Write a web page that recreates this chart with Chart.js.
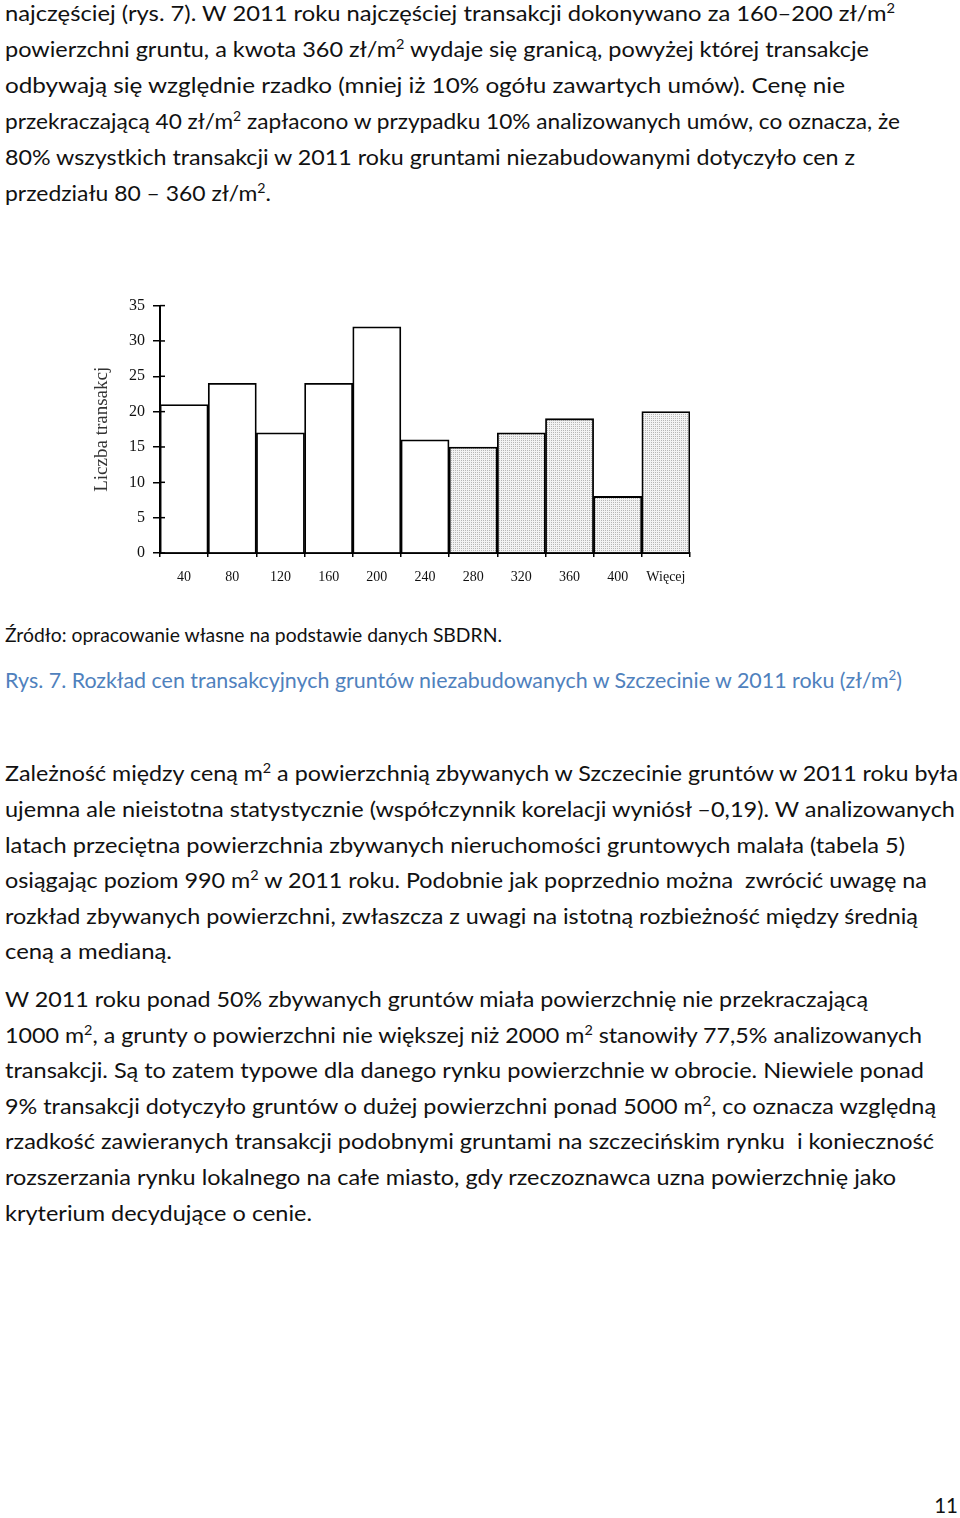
<!DOCTYPE html>
<html lang="pl">
<head>
<meta charset="utf-8">
<script src="https://cdn.jsdelivr.net/npm/chart.js@4.4.1/dist/chart.umd.min.js"></script>
<style>
    html, body { margin: 0; padding: 0; background: #fff; }
    body { width: 960px; height: 1518px; position: relative; overflow: hidden; font-family: Lato, "Open Sans", sans-serif; color: #111; }
    .ln { position: absolute; left: 5px; font-size: 20.5px; line-height: 36px; white-space: pre; transform-origin: 0 0; }
    .ln.maly { font-size: 18.6px; }
    .ln.podpis { color: #4f81bd; }
    .sup { font-size: 0.62em; position: relative; top: -0.6em; }
    #wykres { position: absolute; left: 85px; top: 288px; }
    #strona { position: absolute; right: 2px; top: 1487px; font-size: 20.5px; line-height: 36px; }
</style>
</head>
<body>

<div class="ln" style="top:-5px" data-w="890"><span>najczęściej (rys. 7). W 2011 roku najczęściej transakcji dokonywano za 160–200 zł/m<span class="sup">2</span></span></div>
<div class="ln" style="top:31px" data-w="864"><span>powierzchni gruntu, a kwota 360 zł/m<span class="sup">2</span> wydaje się granicą, powyżej której transakcje</span></div>
<div class="ln" style="top:67px" data-w="840"><span>odbywają się względnie rzadko (mniej iż 10% ogółu zawartych umów). Cenę nie</span></div>
<div class="ln" style="top:103px" data-w="895"><span>przekraczającą 40 zł/m<span class="sup">2</span> zapłacono w przypadku 10% analizowanych umów, co oznacza, że</span></div>
<div class="ln" style="top:139px" data-w="850"><span>80% wszystkich transakcji w 2011 roku gruntami niezabudowanymi dotyczyło cen z</span></div>
<div class="ln" style="top:175px" data-w="266"><span>przedziału 80 – 360 zł/m<span class="sup">2</span>.</span></div>

<canvas id="wykres" width="615" height="304"></canvas>

<div class="ln maly" style="top:617px" data-w="497"><span>Źródło: opracowanie własne na podstawie danych SBDRN.</span></div>
<div class="ln podpis" style="top:662px" data-w="897"><span>Rys. 7. Rozkład cen transakcyjnych gruntów niezabudowanych w Szczecinie w 2011 roku (zł/m<span class="sup">2</span>)</span></div>

<div class="ln" style="top:755px" data-w="953"><span>Zależność między ceną m<span class="sup">2</span> a powierzchnią zbywanych w Szczecinie gruntów w 2011 roku była</span></div>
<div class="ln" style="top:791px" data-w="950"><span>ujemna ale nieistotna statystycznie (współczynnik korelacji wyniósł –0,19). W analizowanych</span></div>
<div class="ln" style="top:827px" data-w="900"><span>latach przeciętna powierzchnia zbywanych nieruchomości gruntowych malała (tabela 5)</span></div>
<div class="ln" style="top:862px" data-w="922"><span>osiągając poziom 990 m<span class="sup">2</span> w 2011 roku. Podobnie jak poprzednio można  zwrócić uwagę na</span></div>
<div class="ln" style="top:898px" data-w="913"><span>rozkład zbywanych powierzchni, zwłaszcza z uwagi na istotną rozbieżność między średnią</span></div>
<div class="ln" style="top:933px" data-w="167"><span>ceną a medianą.</span></div>

<div class="ln" style="top:981px" data-w="863"><span>W 2011 roku ponad 50% zbywanych gruntów miała powierzchnię nie przekraczającą</span></div>
<div class="ln" style="top:1017px" data-w="917"><span>1000 m<span class="sup">2</span>, a grunty o powierzchni nie większej niż 2000 m<span class="sup">2</span> stanowiły 77,5% analizowanych</span></div>
<div class="ln" style="top:1052px" data-w="919"><span>transakcji. Są to zatem typowe dla danego rynku powierzchnie w obrocie. Niewiele ponad</span></div>
<div class="ln" style="top:1088px" data-w="931"><span>9% transakcji dotyczyło gruntów o dużej powierzchni ponad 5000 m<span class="sup">2</span>, co oznacza względną</span></div>
<div class="ln" style="top:1123px" data-w="929"><span>rzadkość zawieranych transakcji podobnymi gruntami na szczecińskim rynku  i konieczność</span></div>
<div class="ln" style="top:1159px" data-w="891"><span>rozszerzania rynku lokalnego na całe miasto, gdy rzeczoznawca uzna powierzchnię jako</span></div>
<div class="ln" style="top:1195px" data-w="307"><span>kryterium decydujące o cenie.</span></div>

<div id="strona">11</div>

<script>
// Rys. 7 - rozkład cen transakcyjnych (zł/m2), Szczecin 2011
const przedzialy = ['40', '80', '120', '160', '200', '240', '280', '320', '360', '400', 'Więcej'];
const liczbaTransakcji = [21, 24, 17, 24, 32, 16, 15, 17, 19, 8, 20];
const osY = { min: 0, max: 35, krok: 5 };
const tytulOsiY = 'Liczba transakcj';
const pierwszyKropkowany = 6; // od 280 słupki są kropkowane

// dopasowanie szerokości linii tekstu
document.querySelectorAll('.ln').forEach(function (el) {
    const w = el.firstElementChild.getBoundingClientRect().width;
    el.style.transform = 'scaleX(' + (el.dataset.w / w) + ')';
});

function wzorKropki() {
    const c = document.createElement('canvas');
    c.width = 2;
    c.height = 2;
    const g = c.getContext('2d');
    g.fillStyle = '#f3f3f3';
    g.fillRect(0, 0, 2, 2);
    g.fillStyle = '#b6b6b6';
    g.fillRect(0, 0, 1, 1);
    return g.createPattern(c, 'repeat');
}

const ctx = document.getElementById('wykres').getContext('2d');
const kropki = wzorKropki();

// krótkie kreski osi Y po stronie wykresu
const kreskiWewnatrz = {
    id: 'kreskiWewnatrz',
    afterDraw(chart) {
        const y = chart.scales.y;
        const g = chart.ctx;
        g.save();
        g.strokeStyle = '#000';
        g.lineWidth = 1.5;
        y.ticks.forEach(function (t) {
            const py = y.getPixelForValue(t.value);
            g.beginPath();
            g.moveTo(y.right, py);
            g.lineTo(y.right + 5, py);
            g.stroke();
        });
        g.restore();
    }
};

new Chart(ctx, {
    type: 'bar',
    data: {
        labels: przedzialy,
        datasets: [{
            data: liczbaTransakcji,
            backgroundColor: function (c) { return c.dataIndex >= pierwszyKropkowany ? kropki : '#ffffff'; },
            borderColor: '#000',
            borderWidth: 1.8,
            borderSkipped: 'bottom',
            barPercentage: 1,
            categoryPercentage: 1
        }]
    },
    options: {
        responsive: false,
        animation: false,
        devicePixelRatio: 1,
        layout: { padding: { top: 13, right: 10, bottom: 0, left: 0 } },
        plugins: {
            legend: { display: false },
            tooltip: { enabled: false }
        },
        scales: {
            x: {
                grid: { offset: true, drawOnChartArea: false, color: '#000', lineWidth: 1.5, tickLength: 4 },
                border: { color: '#000', width: 2 },
                ticks: { color: '#111', padding: 12, maxRotation: 0, font: { family: 'Liberation Serif', size: 14 } },
                afterFit: function (s) { s.height = 39; }
            },
            y: {
                min: osY.min,
                max: osY.max,
                ticks: { stepSize: osY.krok, color: '#111', padding: 8, font: { family: 'Liberation Serif', size: 16 } },
                grid: { drawOnChartArea: false, color: '#000', lineWidth: 1.5, tickLength: 7 },
                border: { color: '#000', width: 2 },
                title: { display: true, text: tytulOsiY, color: '#333', padding: { top: 6, bottom: 0 }, font: { family: 'Liberation Serif', size: 19 } },
                afterFit: function (s) { s.width = 75; }
            }
        }
    },
    plugins: [kreskiWewnatrz]
});
</script>
</body>
</html>
